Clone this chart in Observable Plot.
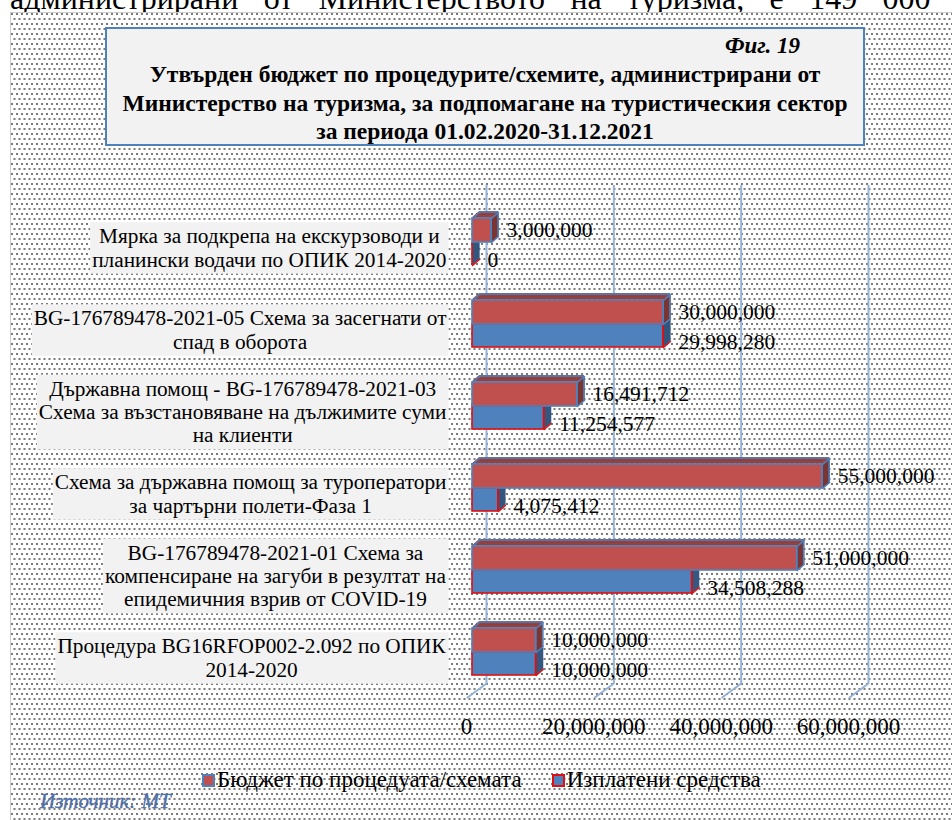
<!DOCTYPE html>
<html><head><meta charset="utf-8">
<script src="https://cdn.jsdelivr.net/npm/d3@7"></script>
<script src="https://cdn.jsdelivr.net/npm/@observablehq/plot@0.6"></script>
<style>
body{margin:0;background:#fff;}
#wrap{position:relative;width:952px;height:820px;overflow:hidden;background:#fff;font-family:"Liberation Serif","Times New Roman",serif;color:#000;}
#toptext{position:absolute;left:10px;top:-18px;width:995px;display:flex;justify-content:space-between;font-size:32px;line-height:32px;white-space:nowrap;}
#frame{position:absolute;left:10px;top:12px;width:970px;height:830px;border:1px solid #cdcdcd;background-color:#fff;
 background-image:radial-gradient(circle at 1px 1px,#7a7a7a 0.8px,transparent 1.2px),radial-gradient(circle at 1px 1px,#7a7a7a 0.8px,transparent 1.2px);
 background-size:5px 10px;background-position:0 0,2.5px 5px;}
#titlebox{position:absolute;left:105px;top:27px;width:760px;height:119px;box-sizing:border-box;border:2px solid #4f81bd;background:#f2f2f2;}
#fig{position:absolute;left:618px;top:5px;font-size:23px;line-height:23px;font-weight:bold;font-style:italic;white-space:nowrap;}
#ttl{position:absolute;left:0;right:0;top:31px;text-align:center;font-size:23.5px;line-height:28.5px;font-weight:bold;white-space:nowrap;}
#legend{position:absolute;left:202px;top:768px;height:24px;display:flex;align-items:center;font-size:23px;white-space:nowrap;}
.sw{display:inline-block;width:13px;height:13px;box-sizing:border-box;margin-right:2px;}
#source{position:absolute;left:40px;top:789px;font-size:21px;line-height:24px;font-style:italic;color:#4f6fa8;-webkit-text-stroke:0.4px #4f6fa8;white-space:nowrap;}
</style></head>
<body>
<div id="wrap">
  <div id="toptext"><span>администрирани</span><span>от</span><span>Министерството</span><span>на</span><span>туризма,</span><span>е</span><span>149</span><span>000</span><span>хил</span></div>
  <div id="frame"></div>
  <div id="titlebox">
    <div id="fig">Фиг. 19</div>
    <div id="ttl">Утвърден бюджет по процедурите/схемите, администрирани от<br>Министерство на туризма, за подпомагане на туристическия сектор<br>за периода 01.02.2020-31.12.2021</div>
  </div>
  <div id="legend"></div>
  <div id="source">Източник: МТ</div>
</div>
<script>
// ---- data ----
const categories = [
  "Мярка за подкрепа на екскурзоводи и\nпланински водачи по ОПИК 2014-2020",
  "BG-176789478-2021-05 Схема за засегнати от\nспад в оборота",
  "Държавна помощ - BG-176789478-2021-03\nСхема за възстановяване на дължимите суми\nна клиенти",
  "Схема за държавна помощ за туроператори\nза чартърни полети-Фаза 1",
  "BG-176789478-2021-01 Схема за\nкомпенсиране на загуби в резултат на\nепидемичния взрив от COVID-19",
  "Процедура BG16RFOP002-2.092 по ОПИК\n2014-2020"
];
const budget = [3000000, 30000000, 16491712, 55000000, 51000000, 10000000];
const paid = [0, 29998280, 11254577, 4075412, 34508288, 10000000];
const seriesNames = ["Бюджет по процедуата/схемата", "Изплатени средства"];
const xTicks = [0, 20000000, 40000000, 60000000];

// ---- build ----
const fmt = d3.format(",");
const redRows = categories.map((c, i) => ({cat: c, series: seriesNames[0], value: budget[i]}));
const blueRows = categories.map((c, i) => ({cat: c, series: seriesNames[1], value: paid[i]}));

const BAND = 82, DX = 7, DY = 6;
const steps = d3.range(0.5, 7.01, 0.5);
const lineShape = {draw(ctx, l) { ctx.moveTo(0, 0); ctx.lineTo(0, -l); }};
const diagRot = Math.atan2(DX, DY) * 180 / Math.PI;
const diagLen = Math.hypot(DX, DY);

function barMarks(data, g, c) {
  const marks = [];
  for (const k of steps) marks.push(Plot.barX(data, {x1: 0, x2: "value", y: "cat", insetTop: g.top - 1, insetBottom: BAND - g.top, dx: k, dy: -k * DY / DX, fill: c.top}));
  for (const k of steps) marks.push(Plot.barX(data, {x1: "value", x2: "value", y: "cat", insetTop: g.top, insetBottom: g.bottom, insetLeft: -0.6, insetRight: -0.6, dx: k, dy: -k * DY / DX, fill: c.right}));
  marks.push(Plot.barX(data, {x1: 0, x2: "value", y: "cat", insetTop: g.top, insetBottom: g.bottom, fill: c.front, stroke: c.outline, strokeWidth: 1.6}));
  marks.push(Plot.barX(data, {x1: "value", x2: "value", y: "cat", insetTop: g.top, insetBottom: g.bottom, insetLeft: -0.8, insetRight: -0.8, fill: c.outline}));
  if (c.fullOutline) {
    marks.push(Plot.barX(data, {x1: "value", x2: "value", y: "cat", insetTop: g.top, insetBottom: g.bottom, insetLeft: -0.8, insetRight: -0.8, dx: DX, dy: -DY, fill: c.outline}));
    marks.push(Plot.barX(data, {x1: 0, x2: "value", y: "cat", insetTop: g.top - 0.8, insetBottom: BAND - g.top - 0.8, dx: DX, dy: -DY, fill: c.outline}));
    for (const xv of [0, "value"]) marks.push(Plot.vector(data, {x: xv, y: "cat", dy: g.top - BAND / 2, rotate: diagRot, length: diagLen, anchor: "start", shape: lineShape, stroke: c.outline, strokeWidth: 1.5}));
  }
  marks.push(Plot.vector(data, {x: "value", y: "cat", dy: BAND / 2 - g.bottom, rotate: diagRot, length: diagLen, anchor: "start", shape: lineShape, stroke: c.outline, strokeWidth: 1.5}));
  return marks;
}

const red = {front: "#c0504d", top: "#94403e", right: "#7b3533", outline: "#4f81bd", fullOutline: true};
const blue = {front: "#4f81bd", top: "#4a72a4", right: "#34577f", outline: "#e01010", fullOutline: false};
const redGeom = {top: 17, bottom: 41};
const blueGeom = {top: 41, bottom: 18};

const chart = Plot.plot({
  width: 952, height: 820,
  marginLeft: 472, marginRight: 98, marginTop: 185, marginBottom: 137,
  x: {domain: [0, 60000000], axis: null},
  y: {type: "band", domain: categories, range: [201, 693], padding: 0, axis: null},
  style: {background: "transparent", fontFamily: "'Liberation Serif', 'Times New Roman', serif", overflow: "visible"},
  marks: [
    Plot.ruleX(xTicks, {x: d => d, dx: 14, stroke: "#95b3d7", strokeWidth: 2}),
    Plot.vector(xTicks, {x: d => d, frameAnchor: "bottom", dx: 14, rotate: Math.atan2(-19, -14) * 180 / Math.PI, length: Math.hypot(19, 14), anchor: "start", shape: lineShape, stroke: "#95b3d7", strokeWidth: 2}),
    ...barMarks(blueRows, blueGeom, blue),
    ...barMarks(redRows, redGeom, red),
    Plot.text(redRows, {x: "value", y: "cat", text: d => fmt(d.value), dx: 15, dy: -12, textAnchor: "start", fontSize: 21.5, fill: "#000"}),
    Plot.text(blueRows, {x: "value", y: "cat", text: d => fmt(d.value), dx: 15, dy: 18, textAnchor: "start", fontSize: 21.5, fill: "#000"}),
    Plot.text(xTicks, {x: d => d, text: d => fmt(d), frameAnchor: "bottom", dy: 50, dx: -6, fontSize: 23, fill: "#000"}),
    Plot.text(categories, {x: () => 0, y: d => d, text: d => d, dx: -200, dy: 5, textAnchor: "middle", lineHeight: 1.1, fontSize: 21.3, fill: "#000"})
  ]
});
chart.style.position = "absolute";
chart.style.left = "0px";
chart.style.top = "0px";
document.getElementById("wrap").insertBefore(chart, document.getElementById("legend"));

// category label boxes: right-align each block at the plot edge, light gray background
const ns = "http://www.w3.org/2000/svg";
const svgR = chart.getBoundingClientRect();
const labelSet = new Set(categories.map(c => c.replace(/\n/g, "")));
const bgG = document.createElementNS(ns, "g");
let labelGroup = null;
chart.querySelectorAll("text").forEach(t => {
  if (!labelSet.has(t.textContent)) return;
  labelGroup = t.parentNode;
  const r = t.getBoundingClientRect();
  const shift = 446.5 - (r.right - svgR.left);
  t.setAttribute("transform", `translate(${shift},0) ` + (t.getAttribute("transform") || ""));
  const rect = document.createElementNS(ns, "rect");
  rect.setAttribute("x", r.left - svgR.left + shift - 2);
  rect.setAttribute("y", r.top - svgR.top - 2);
  rect.setAttribute("width", r.width + 4);
  rect.setAttribute("height", r.height + 4);
  rect.setAttribute("fill", "#f2f2f2");
  bgG.appendChild(rect);
});
if (labelGroup) {
  let top = labelGroup;
  while (top.parentNode && top.parentNode !== chart) top = top.parentNode;
  chart.insertBefore(bgG, top);
}

// legend
const legend = document.getElementById("legend");
const sw = [{bg: red.front, bd: red.outline}, {bg: blue.front, bd: blue.outline}];
seriesNames.forEach((n, i) => {
  const s = document.createElement("span");
  s.className = "sw";
  s.style.background = sw[i].bg;
  s.style.border = `2px solid ${sw[i].bd}`;
  if (i > 0) s.style.marginLeft = "30px";
  legend.appendChild(s);
  const t = document.createElement("span");
  t.textContent = n;
  legend.appendChild(t);
});
</script>
</body></html>
